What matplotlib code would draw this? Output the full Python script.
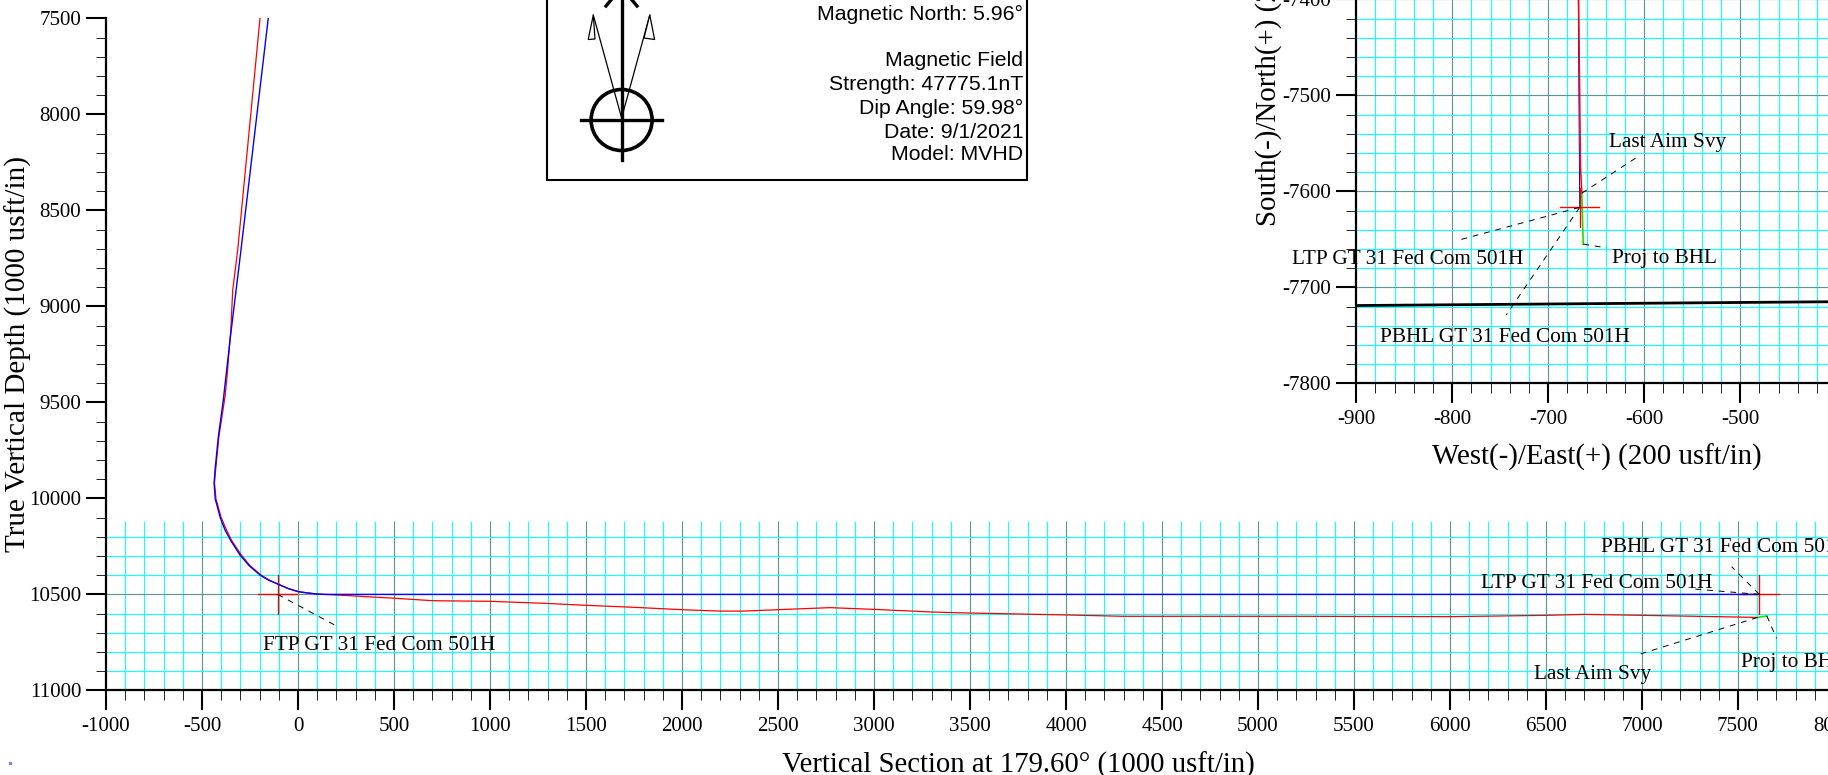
import numpy as np
import matplotlib
matplotlib.use('Agg')
import matplotlib.pyplot as plt
from matplotlib.patches import Circle, Polygon, Rectangle

plt.rcParams['font.family'] = 'Liberation Serif'
plt.rcParams['axes.unicode_minus'] = False

W, H = 1828, 775

# section view, plan (blue) and actual (red)
plan_vs = [-155, -297, -354, -389, -415, -432, -437, -431, -420, -405, -380, -350, -302, -255, -198, -155, -106, -50, 2, 45, 97, 140, 201, 7611]
plan_tvd = [7500, 8706, 9175, 9488, 9679, 9852, 9920, 10003, 10043, 10100, 10165, 10220, 10295, 10350, 10399, 10425, 10446, 10470, 10486, 10492, 10498, 10500, 10500, 10500]
act_vs = [-198, -314, -340, -350, -368, -380, -412, -429, -435, -427, -416, -400, -372, -345, -295, -250, -193, -150, -104, -50, 4, 97, 201, 502, 705, 1000, 1295, 1503, 1745, 2007, 2198, 2318, 2615, 2771, 3000, 3309, 3500, 4003, 4298, 5219, 6000, 6500, 6700, 7000, 7500, 7602]
act_tvd = [7500, 8706, 8915, 9123, 9347, 9470, 9679, 9852, 9920, 10003, 10043, 10100, 10165, 10220, 10295, 10350, 10399, 10425, 10446, 10470, 10486, 10498, 10503, 10520, 10533, 10536, 10547, 10557, 10567, 10580, 10587, 10587, 10575, 10569, 10578, 10592, 10597, 10607, 10614, 10614, 10616, 10609, 10604, 10609, 10618, 10620]
proj_vs = [7602, 7650]
proj_tvd = [10620, 10612]
ftp_vs, ftp_tvd = -106, 10500
ltp_vs, ltp_tvd = 7611, 10500

# plan view
plan_e = [-668.8, -667.2]
plan_n = [-7380, -7616.7]
act_e = [-668.5, -668.3, -667.2, -666.4, -665]
act_n = [-7380, -7401, -7500, -7574, -7602]
proj_e = [-665, -663.5]
proj_n = [-7602, -7655]
hardline_e = [-900, -400]
hardline_n = [-7719, -7715]
target_e, target_n = -667.2, -7616.7

main_xticks = np.arange(-1000, 8001, 500)
main_yticks = np.arange(7500, 11001, 500)
ins_xticks = np.arange(-900, -499, 100)
ins_yticks = np.arange(-7800, -7399, 100)

main_labels = [
    ('FTP GT 31 Fed Com 501H', 263, 645),
    ('PBHL GT 31 Fed Com 501H', 1601, 548),
    ('LTP GT 31 Fed Com 501H', 1481, 583),
    ('Last Aim Svy', 1534, 674),
    ('Proj to BHL', 1741, 662),
]
main_leaders = [
    ([ftp_vs, 207], [ftp_tvd, 10668]),
    ([ltp_vs, 7262], [ltp_tvd, 10471]),
    ([ltp_vs, 7467], [ltp_tvd, 10356]),
    ([7602, 6977], [10620, 10815]),
    ([7650, 7701], [10612, 10729]),
]
ins_labels = [
    ('Last Aim Svy', 1609, 143),
    ('Proj to BHL', 1612, 259),
    ('LTP GT 31 Fed Com 501H', 1292, 259),
    ('PBHL GT 31 Fed Com 501H', 1380, 338),
]
ins_leaders = [
    ([-665, -606.8], [-7602, -7564]),
    ([-663.5, -639], [-7655, -7659]),
    ([target_e, -795.6], [target_n, -7651.5]),
    ([target_e, -743.8], [target_n, -7728.9]),
]
mag_text = [
    ('Magnetic North: 5.96\u00b0', 14),
    ('Magnetic Field', 60),
    ('Strength: 47775.1nT', 84),
    ('Dip Angle: 59.98\u00b0', 108),
    ('Date: 9/1/2021', 132),
    ('Model: MVHD', 155),
]

CYAN = '#19ffff'
MAJOR = '#5f9595'
DASH = (0, (6, 6))


def axes_px(left, right, top, bottom):
    return fig.add_axes([left / W, 1 - bottom / H, (right - left) / W, (bottom - top) / H])


def style_axis(ax):
    for s in ['top', 'right']:
        ax.spines[s].set_visible(False)
    for s in ['left', 'bottom']:
        ax.spines[s].set_linewidth(1.6)
    ax.patch.set_alpha(0)
    ax.tick_params(which='major', length=14.4, width=1.5, labelsize=15.1)
    ax.tick_params(which='minor', length=7.2, width=0.7, color='#222222')
    ax.tick_params(axis='y', which='major', pad=3.5)
    ax.tick_params(axis='x', which='major', pad=5)


fig = plt.figure(figsize=(W / 100, H / 100), dpi=100)

# px overlay for the box and texts
over = fig.add_axes([0, 0, 1, 1], zorder=5)
over.set_xlim(0, W)
over.set_ylim(H, 0)
over.axis('off')

# section view: 0.192 px per usft
ax = axes_px(106, 298 + 8100 * 0.192, 690.4 - 3500 * 0.192, 690.4)
ax.set_xlim(-1000, 8100)
ax.set_ylim(11000, 7500)
style_axis(ax)
ax.set_xticks(main_xticks)
ax.set_yticks(main_yticks)
ax.set_xticks(np.arange(-1000, 8101, 100), minor=True)
ax.set_yticks(np.arange(7500, 11001, 100), minor=True)

for v in np.arange(-900, 8101, 100):
    c = MAJOR if v % 500 == 0 else CYAN
    ax.vlines(v, 10116, 11000, color=c, lw=0.85, zorder=1)
for v in np.arange(10200, 10901, 100):
    c = MAJOR if v % 500 == 0 else CYAN
    ax.hlines(v, -1000, 8100, color=c, lw=0.85, zorder=1)

ax.plot(act_vs, act_tvd, color='#ff0000', lw=0.9, zorder=3)
ax.plot(proj_vs, proj_tvd, color='#22dd00', lw=1.2, zorder=3)
ax.plot(plan_vs, plan_tvd, color='#0000ff', lw=1.0, zorder=4)
for cx, cy in [(ftp_vs, ftp_tvd), (ltp_vs, ltp_tvd)]:
    ax.plot([cx - 100, cx + 100], [cy, cy], color='#ff0000', lw=1.0, zorder=3)
    ax.plot([cx, cx], [cy - 100, cy + 100], color='#ff0000', lw=1.0, zorder=3)
for lx, ly in main_leaders:
    ax.plot(lx, ly, color='black', lw=0.7, ls=DASH, zorder=4)

ax.set_xlabel('Vertical Section at 179.60\u00b0 (1000 usft/in)', fontsize=20.7, va='center', ha='center')
ax.xaxis.set_label_coords(1018, 765, transform=over.transData)
ax.set_ylabel('True Vertical Depth (1000 usft/in)', fontsize=21, va='center', ha='center', rotation_mode='anchor')
ax.yaxis.set_label_coords(18, 354, transform=over.transData)

# plan view: 0.96 px per usft
ins = axes_px(1356.2, 1356.2 + 500 * 0.96, 383.3 - 420 * 0.96, 383.3)
ins.set_xlim(-900, -400)
ins.set_ylim(-7800, -7380)
style_axis(ins)
ins.set_xticks(ins_xticks)
ins.set_yticks(ins_yticks)
ins.set_xticks(np.arange(-900, -399, 20), minor=True)
ins.set_yticks(np.arange(-7800, -7379, 20), minor=True)

for v in np.arange(-880, -399, 20):
    c = MAJOR if v % 100 == 0 else CYAN
    ins.vlines(v, -7800, -7380, color=c, lw=0.85, zorder=1)
for v in np.arange(-7780, -7379, 20):
    c = MAJOR if v % 100 == 0 else CYAN
    ins.hlines(v, -900, -400, color=c, lw=0.85, zorder=1)

ins.plot(hardline_e, hardline_n, color='black', lw=2.0, zorder=3)
ins.plot(plan_e, plan_n, color='#0000ff', lw=0.7, zorder=3)
ins.plot(act_e, act_n, color='#ff0000', lw=1.1, zorder=3)
ins.plot(proj_e, proj_n, color='#22dd00', lw=1.2, zorder=3)
ins.plot([target_e - 20, target_e + 20], [target_n, target_n], color='#ff0000', lw=1.0, zorder=3)
ins.plot([target_e, target_e], [target_n - 20, target_n + 20], color='#ff0000', lw=1.0, zorder=3)
for lx, ly in ins_leaders:
    ins.plot(lx, ly, color='black', lw=0.7, ls=DASH, zorder=4)

ins.set_xlabel('West(-)/East(+) (200 usft/in)', fontsize=20.8, va='center', ha='center')
ins.xaxis.set_label_coords(1597, 457, transform=over.transData)
ins.set_ylabel('South(-)/North(+) (200 usft/in)', fontsize=20.8, va='center', ha='left', rotation_mode='anchor')
ins.yaxis.set_label_coords(1269, 226, transform=over.transData)

for txt, x, y in main_labels + ins_labels:
    over.text(x, y, txt, fontsize=15.3, ha='left', va='center')

# magnetic box
over.add_patch(Rectangle((546.5, -10), 480.5, 189.5, fill=False, ec='black', lw=1.5))
for txt, y in mag_text:
    over.text(1023, y, txt, fontsize=15.3, family='Liberation Sans', ha='right', va='center')

over.plot([621.6, 621.6], [-5, 160], color='black', lw=2.4)
over.plot([581.3, 661.5], [120, 120], color='black', lw=2.4)
over.add_patch(Circle((621.6, 120), 30.5, fill=False, ec='black', lw=2.6))
over.plot([606, 611], [6, 0], color='black', lw=2.4)
over.plot([637, 632], [6, 0], color='black', lw=2.4)
over.plot([621.6, 593.3], [118, 15], color='black', lw=0.9)
over.plot([621.6, 649.8], [118, 15], color='black', lw=0.9)
over.add_patch(Polygon([(593.3, 15), (588.2, 39.5), (595, 39)], closed=True, fc='white', ec='black', lw=0.9, zorder=4))
over.add_patch(Polygon([(649.8, 15), (644, 38), (654.6, 39.5)], closed=True, fc='white', ec='black', lw=0.9, zorder=4))

# small dot bottom left
over.plot([10], [763], marker='o', ms=2.6, color='#8878e0', mec='none')

fig.savefig('out.png', dpi=100)
